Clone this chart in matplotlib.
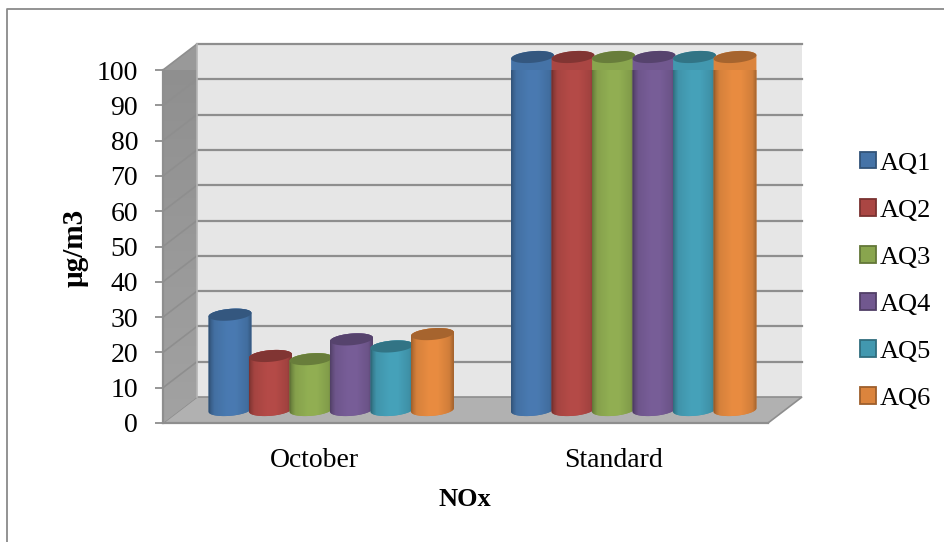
import numpy as np
import matplotlib
matplotlib.use("Agg")
import matplotlib.pyplot as plt
from matplotlib.patches import Polygon, Patch
from matplotlib.colors import to_rgb
from matplotlib.lines import Line2D

categories = ["October", "Standard"]
series = ["AQ1", "AQ2", "AQ3", "AQ4", "AQ5", "AQ6"]
october = [27, 15.3, 14.4, 20, 18, 21.5]
standard = [100, 100, 100, 100, 100, 100]
colors = ["#4573a7", "#aa4643", "#89a54e", "#71588f", "#4298af", "#db843d"]
y_ticks = list(range(0, 101, 10))

W, H = 944, 542
L, R, T, B = 163, 768, 70, 423
plt.rcParams['font.family'] = ['Liberation Serif', 'DejaVu Serif']
GRID = "#8e8e8e"

fig = plt.figure(figsize=(W / 100, H / 100), dpi=100)
ax = fig.add_axes([L / W, 1 - B / H, (R - L) / W, (B - T) / H])
ax.set_facecolor("none")
ax.set_xlim(0, 2)
ax.set_ylim(0, 100)
px = 2 / (R - L)      # data units per pixel, x
py = 100 / (B - T)    # data units per pixel, y
dx, dy = 34 * px, 26 * py

# outer frame
fig.add_artist(Line2D([7 / W, 7 / W, 1], [0, 1 - 9 / H, 1 - 9 / H], color="#8a8a8a", lw=1.3))

def clip_to(artist, patch):
    artist.set_clip_on(True)
    artist.set_clip_path(patch)
    artist.set_clip_box(None)

# back wall, floor, side wall
ax.add_patch(Polygon([(dx, dy), (2 + dx, dy), (2 + dx, 100 + dy), (dx, 100 + dy)], fc="#e6e6e6", ec="none", zorder=1, clip_on=False))
ax.add_patch(Polygon([(0, 0), (2, 0), (2 + dx, dy), (dx, dy)], fc="#b1b1b1", ec=GRID, lw=1.2, zorder=1, clip_on=False))
side = Polygon([(0, 0), (dx, dy), (dx, 100 + dy), (0, 100)], fc="#999999", ec="none", zorder=1, clip_on=False)
ax.add_patch(side)
side_arr = np.linspace(to_rgb("#a2a2a2"), to_rgb("#8e8e8e"), 64).reshape(64, 1, 3)
im_side = ax.imshow(side_arr, extent=(0, dx, 0, 100 + dy), aspect="auto", origin="lower", zorder=1.1)
clip_to(im_side, side)

# grid
for v in y_ticks:
    if v > 0:
        ax.plot([dx, 2 + dx], [v + dy, v + dy], color=GRID, lw=1.6, zorder=1.5, clip_on=False)
        ax.plot([0, dx], [v, v + dy], color=GRID, lw=1.2, zorder=1.5, clip_on=False)
ax.plot([dx, dx], [dy, 100 + dy], color="#b5b5b5", lw=1.2, zorder=1.5, clip_on=False)

# cylinders
bar_w = 40.5 * px
a_px, b_px = 21.5, 5.8
tilt = np.deg2rad(5)
t = np.linspace(0, 2 * np.pi, 81)
ex = (a_px * np.cos(t) * np.cos(tilt) - b_px * np.sin(t) * np.sin(tilt)) * px
ey = (a_px * np.cos(t) * np.sin(tilt) + b_px * np.sin(t) * np.cos(tilt)) * py

def shade(c):
    c = np.array(to_rgb(c))
    s = np.linspace(0, 1, 100)
    dark = c * 0.62
    light = np.clip(c * 1.06, 0, 1)
    f = np.interp(s, [0, 0.06, 0.14, 0.42, 0.62, 0.88, 0.97, 1], [0.0, 0.45, 0.8, 1, 1, 0.75, 0.3, 0.1])
    return (dark[None, :] * (1 - f[:, None]) + light[None, :] * f[:, None]).reshape(1, 100, 3)

y0 = dy / 2
for g, vals in enumerate([october, standard]):
    for i, (v, c) in enumerate(zip(vals, colors)):
        z = 3 + g * 10 + i
        x = g + 0.5 + (i - 2.5) * bar_w + dx / 2
        outline = np.column_stack([np.r_[x + ex[40:], x + ex[:41]],
                                   np.r_[y0 + ey[40:], y0 + v + ey[:41]]])
        body = Polygon(outline, fc=c, ec="none", zorder=z, clip_on=False)
        ax.add_patch(body)
        bars = ax.bar(x, v, width=bar_w, bottom=y0, color=c, zorder=z, linewidth=0)
        clip_to(bars[0], body)
        im = ax.imshow(shade(c), extent=(x - (a_px + 1) * px, x + (a_px + 1) * px, y0 - 10 * py, y0 + v + 10 * py),
                       aspect="auto", origin="lower", zorder=z + 0.1, interpolation="bilinear")
        clip_to(im, body)
        top = np.array(to_rgb(c)) * 0.76
        ax.add_patch(Polygon(np.column_stack([x + ex, y0 + v + ey]), fc=top, ec="none", zorder=z + 0.2, clip_on=False))

ax.set_xlim(0, 2)
ax.set_ylim(0, 100)

# axes
for s in ["top", "right"]:
    ax.spines[s].set_visible(False)
for s in ["left", "bottom"]:
    ax.spines[s].set_color(GRID)
    ax.spines[s].set_linewidth(1.6)
    ax.spines[s].set_zorder(2)
ax.set_yticks(y_ticks)
ax.set_xticks([0.5, 1.49], categories)
ax.tick_params(axis="y", length=6, width=1.3, color=GRID, labelsize=20, pad=12)
ax.tick_params(axis="x", length=0, labelsize=20, pad=18)
ax.set_ylabel("µg/m3", fontsize=21, fontweight="bold", va="center")
ax.yaxis.set_label_coords((75 - L) / (R - L), (B - 248) / (B - T))
ax.set_xlabel("NOx", fontsize=19, fontweight="bold", va="center")
ax.xaxis.set_label_coords((465 - L) / (R - L), (B - 500) / (B - T))

handles = [Patch(fc=c, ec=np.array(to_rgb(c)) * 0.72, lw=1.3, label=s) for c, s in zip(colors, series)]
fig.legend(handles=handles, loc="center left", bbox_to_anchor=(855 / W, 1 - 281 / H), frameon=False,
           fontsize=19, handlelength=0.58, handleheight=0.58, handletextpad=0.15, labelspacing=0.93,
           borderpad=0.2, borderaxespad=0)

fig.savefig("out.png", dpi=100)
